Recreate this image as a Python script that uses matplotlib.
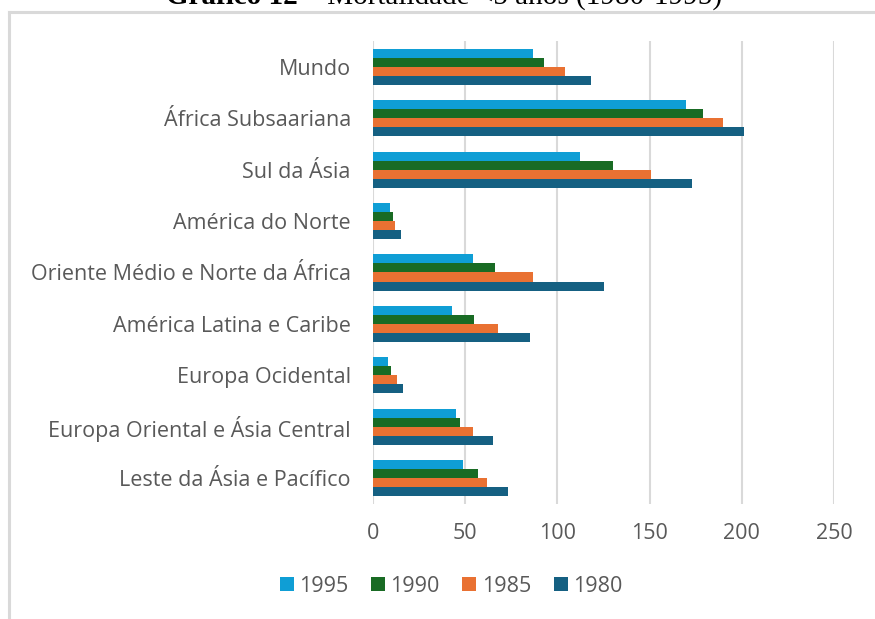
import matplotlib.pyplot as plt
import numpy as np
from matplotlib.lines import Line2D

regioes = ['Mundo', 'África Subsaariana', 'Sul da Ásia', 'América do Norte',
           'Oriente Médio e Norte da África', 'América Latina e Caribe',
           'Europa Ocidental', 'Europa Oriental e Ásia Central',
           'Leste da Ásia e Pacífico']

anos = ['1995', '1990', '1985', '1980']
v1995 = [87, 170, 112, 9, 54, 43, 8, 45, 49]
v1990 = [93, 179, 130, 11, 66, 55, 10, 47, 57]
v1985 = [104, 190, 151, 12, 87, 68, 13, 54, 62]
v1980 = [118, 201, 173, 15, 125, 85, 16, 65, 73]
cores = ['#0F9ED5', '#196B24', '#E97132', '#156082']

plt.rcParams['font.family'] = ['Open Sans', 'DejaVu Sans']

W, H = 875, 619
fig = plt.figure(figsize=(W / 100, H / 100), dpi=100)
ax = fig.add_axes([373 / W, 1 - 504 / H, (834 - 373) / W, (504 - 41) / H])

y = np.arange(len(regioes))
h = 0.175
for i, (vals, cor, ano) in enumerate(zip([v1995, v1990, v1985, v1980], cores, anos)):
    ax.barh(y + (i - 1.5) * h, vals, height=h, color=cor, label=ano, zorder=3)

ax.set_ylim(len(regioes) - 0.5, -0.5)
ax.set_xlim(0, 250)
ax.set_xticks(range(0, 251, 50))
ax.set_yticks(y)
ax.set_yticklabels(regioes)
ax.grid(axis='x', color='#D9D9D9', linewidth=1.5, zorder=0)
for s in ax.spines.values():
    s.set_visible(False)
ax.tick_params(length=0, labelsize=15.5, colors='#595959')
ax.tick_params(axis='y', pad=16)
ax.tick_params(axis='x', pad=14)

fig.legend(loc='center', bbox_to_anchor=(451 / W, 1 - 586 / H), ncol=4, frameon=False,
           fontsize=15.5, labelcolor='#595959', handlelength=0.65, handleheight=0.65,
           handletextpad=0.25, columnspacing=1.05)

# moldura do gráfico (parcialmente cortada)
fig.add_artist(Line2D([8.5 / W, 1], [1 - 12 / H, 1 - 12 / H], color='#D9D9D9', lw=2.2))
fig.add_artist(Line2D([8.5 / W, 8.5 / W], [1 - 12 / H, 0], color='#D9D9D9', lw=2.2))

# título (cortado no topo, como no original)
r = fig.canvas.get_renderer()
t1 = fig.text(0, 1 - 4 / H, 'Gráfico 12', fontsize=21, weight='bold',
              family='Liberation Serif', va='baseline')
t2 = fig.text(0, 1 - 4 / H, ' – Mortalidade <5 anos (1980-1995)', fontsize=21,
              family='Liberation Serif', va='baseline')
w1 = t1.get_window_extent(r).width
w2 = t2.get_window_extent(r).width
x0 = 444 - (w1 + w2) / 2
t1.set_x(x0 / W)
t2.set_x((x0 + w1) / W)

fig.savefig('out.png', dpi=100)
